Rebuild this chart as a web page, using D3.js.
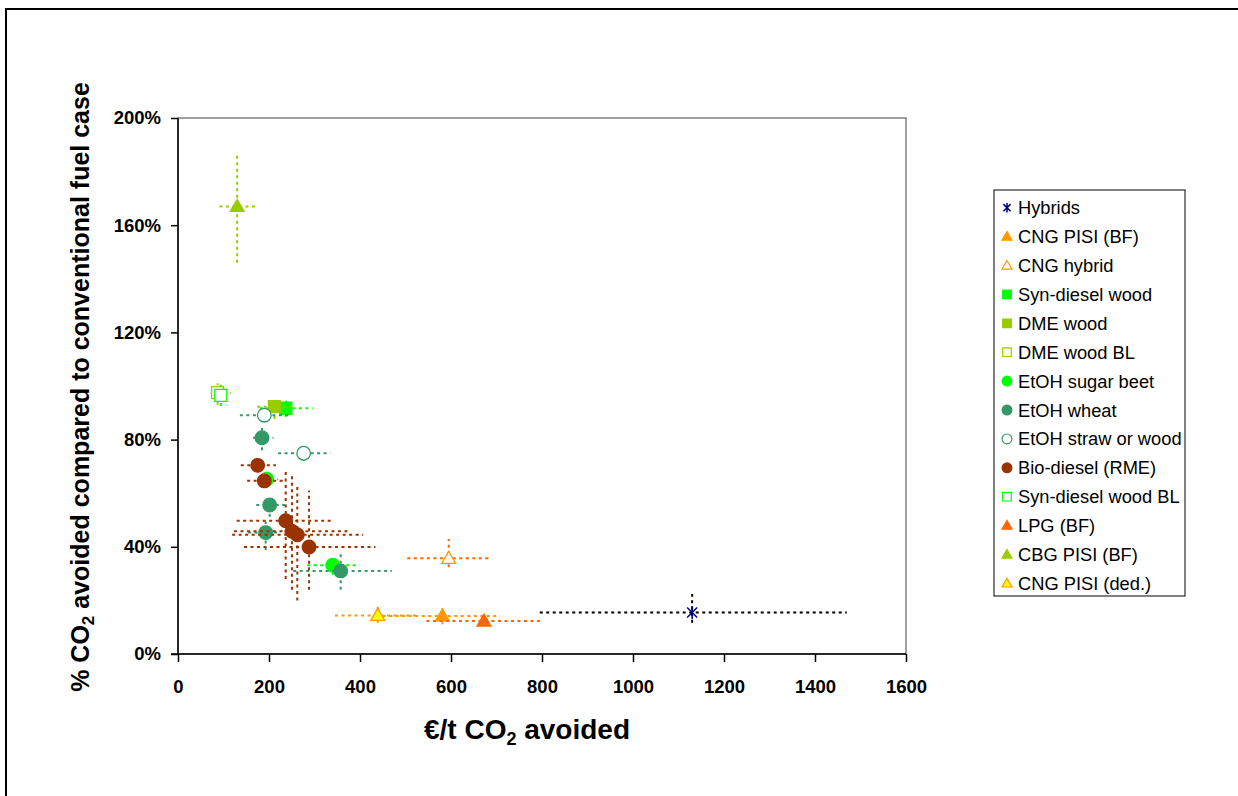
<!DOCTYPE html>
<html>
<head>
<meta charset="utf-8">
<script src="https://cdn.jsdelivr.net/npm/d3@7"></script>
<style>
  body { margin: 0; background: #fff; }
  text { font-family: Arial, "Liberation Sans", sans-serif; }
</style>
</head>
<body>
<svg id="chart" width="1238" height="796"></svg>
<script>
// axis ticks
const xTicks = [0, 200, 400, 600, 800, 1000, 1200, 1400, 1600];
const yTicks = [0, 40, 80, 120, 160, 200];

// legend / series order
const seriesNames = ['Hybrids', 'CNG PISI (BF)', 'CNG hybrid', 'Syn-diesel wood', 'DME wood', 'DME wood BL',
  'EtOH sugar beet', 'EtOH wheat', 'EtOH straw or wood', 'Bio-diesel (RME)', 'Syn-diesel wood BL',
  'LPG (BF)', 'CBG PISI (BF)', 'CNG PISI (ded.)'];

// each point: [€/t, %avoided, €/t low, €/t high, % low, % high]
const hybrids = [[1130, 15.5, 795, 1470, 11.7, 22.4]];
const cngPisiBf = [[581, 14.2, 450, 708, 11.1, 18.2]];
const cngHybrid = [[595, 35.7, 504, 683, 32.4, 42.9]];
const synDieselWood = [[237, 91.7, 180, 296, 88.5, 94.8]];
const dmeWood = [[212, 92.3, 174, 250, 87.7, 94.8]];
const dmeWoodBL = [[87, 97.5, 72, 117, 93, 101]];
const etohSugarBeet = [[195, 65.2, 175, 220, 62.5, 68], [340, 33.1, 284, 399, 29.5, 36.1]];
const etohWheat = [[184.6, 80.7, 165, 210, 76, 84.3], [201.5, 55.6, 172, 235, 51.2, 58.3],
  [192.7, 45.3, 154, 224, 38.8, 49.4], [357.6, 31, 253, 470, 24, 38]];
const etohStraw = [[189.7, 89.1, 136, 250, 87.5, 91], [276.2, 74.9, 220, 335, 72, 77]];
const bioDiesel = [[175.1, 70.4, 138, 215, 68, 73], [189.7, 64.6, 152, 231, 62, 67],
  [236.7, 49.7, 129, 343, 28, 68], [250.5, 45.8, 123, 378, 24, 67],
  [262.2, 44.5, 119, 407, 20, 62.4], [288, 39.9, 145, 434, 24, 61]];
const synDieselWoodBL = [[94, 96.5, 80, 108, 92.5, 100.5]];
const lpgBf = [[672.5, 12.3, 546, 799, 12.3, 12.3]];
const cbgPisiBf = [[130, 167, 91, 169, 146, 186]];
const cngPisiDed = [[439, 14.4, 345, 527, 11.7, 18.9]];

const seriesData = [hybrids, cngPisiBf, cngHybrid, synDieselWood, dmeWood, dmeWoodBL, etohSugarBeet,
  etohWheat, etohStraw, bioDiesel, synDieselWoodBL, lpgBf, cbgPisiBf, cngPisiDed];

// marker styles
const styles = [
  {m: 'star', fill: 'none', stroke: '#000080', bar: '#000'},
  {m: 'tri', fill: '#ff9900', stroke: '#ff9900', bar: '#ff9900'},
  {m: 'tri', fill: '#fff', stroke: '#ff9900', bar: '#ff6600'},
  {m: 'sq', fill: '#00ff00', stroke: '#00ff00', bar: '#00ff00'},
  {m: 'sq', fill: '#99cc00', stroke: '#99cc00', bar: '#99cc00'},
  {m: 'sq', fill: '#fff', stroke: '#99cc00', bar: '#99cc00'},
  {m: 'circ', fill: '#00ff00', stroke: '#00ff00', bar: '#00ff00'},
  {m: 'circ', fill: '#339966', stroke: '#339966', bar: '#339966'},
  {m: 'circ', fill: '#fff', stroke: '#339966', bar: '#339966'},
  {m: 'circ', fill: '#993300', stroke: '#993300', bar: '#993300'},
  {m: 'sq', fill: '#fff', stroke: '#00ff00', bar: '#00ff00'},
  {m: 'tri', fill: '#ff6600', stroke: '#ff6600', bar: '#ff6600'},
  {m: 'tri', fill: '#99cc00', stroke: '#99cc00', bar: '#99cc00'},
  {m: 'tri', fill: '#ffff00', stroke: '#ff9900', bar: '#ff9900'}
];

function markerPath(type, k) {
  if (type === 'tri') return `M0,${-7*k}L${7*k},${5*k}L${-7*k},${5*k}Z`;
  if (type === 'sq') return `M${-6*k},${-6*k}h${12*k}v${12*k}h${-12*k}Z`;
  if (type === 'circ') { const r = 6.8*k; return `M${r},0A${r},${r} 0 1 1 ${-r},0A${r},${r} 0 1 1 ${r},0Z`; }
  const a = 5*k;
  return `M${-a},${-a}L${a},${a}M${a},${-a}L${-a},${a}M0,${-6.5*k}L0,${6.5*k}`;
}

const svg = d3.select('#chart');
svg.append('rect').attr('width', 1238).attr('height', 796).attr('fill', '#fff');
// outer frame
svg.append('rect').attr('x', 6).attr('y', 9).attr('width', 1300).attr('height', 900)
  .attr('fill', 'none').attr('stroke', '#000').attr('stroke-width', 2);

const xScale = d3.scaleLinear().domain([0, 1600]).range([178, 906]);
const yScale = d3.scaleLinear().domain([0, 200]).range([654, 118]);

// plot area border
svg.append('rect').attr('x', 178).attr('y', 118).attr('width', 728).attr('height', 536)
  .attr('fill', 'none').attr('stroke', '#808080').attr('stroke-width', 1.5);

const xAxis = d3.axisBottom(xScale).tickValues(xTicks).tickSizeInner(8).tickSizeOuter(0).tickPadding(18)
  .tickFormat(d3.format('d'));
const yAxis = d3.axisLeft(yScale).tickValues(yTicks).tickSizeInner(7).tickSizeOuter(0).tickPadding(10)
  .tickFormat(d => d + '%');

const gx = svg.append('g').attr('transform', 'translate(0,654)').call(xAxis);
gx.select('.domain').remove();
gx.append('line').attr('x1', 171).attr('x2', 906).attr('stroke', '#000').attr('stroke-width', 1.5);
gx.selectAll('.tick line').attr('stroke-width', 1.5);
gx.selectAll('text').attr('font-size', '18.5px').attr('font-weight', 'bold').attr('fill', '#000')
  .attr('font-family', 'Arial, "Liberation Sans", sans-serif');

const gy = svg.append('g').attr('transform', 'translate(178,0)').call(yAxis);
gy.select('.domain').remove();
gy.append('line').attr('y1', 118).attr('y2', 654).attr('stroke', '#000').attr('stroke-width', 1.5);
gy.selectAll('.tick line').attr('stroke-width', 1.5);
gy.selectAll('text').attr('font-size', '18.5px').attr('font-weight', 'bold').attr('fill', '#000')
  .attr('font-family', 'Arial, "Liberation Sans", sans-serif');

// axis titles
const xt = svg.append('text').attr('x', 527).attr('y', 739).attr('text-anchor', 'middle')
  .attr('font-size', '28px').attr('font-weight', 'bold');
xt.append('tspan').text('€/t CO');
xt.append('tspan').text('2').attr('font-size', '18px').attr('dy', 6);
xt.append('tspan').text(' avoided').attr('dy', -6);

const yt = svg.append('text').attr('transform', 'translate(89,387) rotate(-90)').attr('text-anchor', 'middle')
  .attr('font-size', '25px').attr('font-weight', 'bold');
yt.append('tspan').text('% CO');
yt.append('tspan').text('2').attr('font-size', '17px').attr('dy', 5);
yt.append('tspan').text(' avoided compared to conventional fuel case').attr('dy', -5);

// error bars and markers
const plot = svg.append('g');
seriesData.forEach((pts, i) => {
  const st = styles[i];
  const g = plot.append('g');
  pts.forEach(p => {
    g.append('line').attr('x1', xScale(p[2])).attr('x2', xScale(p[3]))
      .attr('y1', yScale(p[1])).attr('y2', yScale(p[1]))
      .attr('stroke', st.bar).attr('stroke-width', 2).attr('stroke-dasharray', '3,3.5');
    if (p[5] > p[4]) {
      g.append('line').attr('x1', xScale(p[0])).attr('x2', xScale(p[0]))
        .attr('y1', yScale(p[4])).attr('y2', yScale(p[5]))
        .attr('stroke', st.bar).attr('stroke-width', 2).attr('stroke-dasharray', '3,3.5');
    }
  });
  g.selectAll('path.mk').data(pts).join('path').attr('class', 'mk')
    .attr('transform', d => `translate(${xScale(d[0])},${yScale(d[1])})`)
    .attr('d', markerPath(st.m, 1))
    .attr('fill', st.fill).attr('stroke', st.stroke).attr('stroke-width', st.m === 'star' ? 1.5 : 1.3);
});

// legend
const lg = svg.append('g');
lg.append('rect').attr('x', 994).attr('y', 190).attr('width', 191).attr('height', 406)
  .attr('fill', '#fff').attr('stroke', '#000').attr('stroke-width', 1);
seriesNames.forEach((name, i) => {
  const st = styles[i];
  const cy = 207.7 + 28.9 * i;
  lg.append('path').attr('transform', `translate(1007,${cy})`).attr('d', markerPath(st.m, 0.72))
    .attr('fill', st.fill).attr('stroke', st.stroke).attr('stroke-width', st.m === 'star' ? 1.5 : 1.2);
  lg.append('text').attr('x', 1018).attr('y', cy).attr('dy', '0.36em')
    .attr('font-size', '18.3px').attr('fill', '#000').text(name);
});
</script>
</body>
</html>
